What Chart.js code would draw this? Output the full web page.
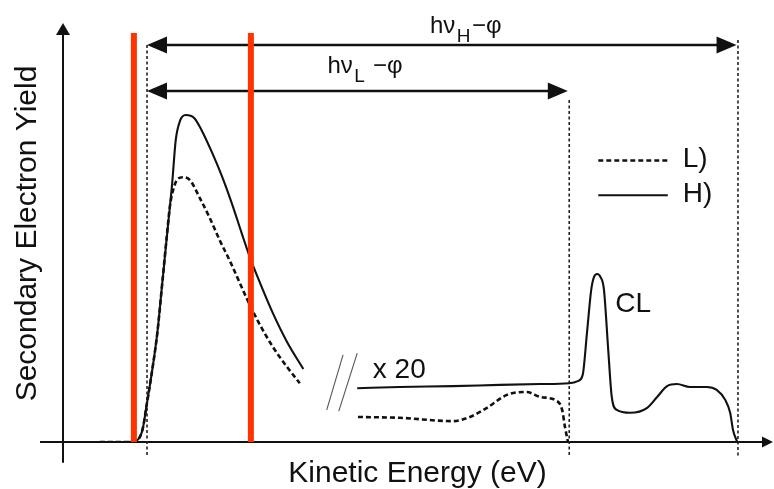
<!DOCTYPE html>
<html>
<head>
<meta charset="utf-8">
<style>
  html, body { margin: 0; padding: 0; background: #ffffff; }
  canvas { display: block; }
</style>
<script src="https://cdn.jsdelivr.net/npm/chart.js@4.4.1/dist/chart.umd.min.js"></script>
</head>
<body>
<canvas id="chart" width="774" height="489"></canvas>
<script>
// ---------------- data (arbitrary units: energy 0-100, yield 0-100) ----------------
// low-energy secondary-electron peak, H) excitation (solid)
const hLowEnergy = [5.2, 8.7, 10.2, 10.9, 11.3, 11.8, 12.3, 13.3, 14.0, 14.7, 15.4, 15.9, 16.5, 17.3, 18.5, 19.6, 21.0, 22.4, 23.8, 25.2, 26.4, 27.8, 29.6, 31.6, 33.9];
const hLowYield  = [0, 0, 0.2, 1.4, 3.6, 8.9, 14.1, 26.1, 38.1, 50.1, 62.1, 72.4, 77.0, 78.4, 77.7, 74.6, 69.5, 63.8, 57.3, 50.1, 44.1, 38.1, 30.9, 24.0, 17.5];
// low-energy secondary-electron peak, L) excitation (dashed)
const lLowEnergy = [5.2, 8.7, 10.2, 10.9, 11.3, 11.8, 12.3, 13.3, 14.0, 14.7, 15.1, 15.7, 16.2, 16.9, 17.9, 19.3, 20.7, 22.1, 23.6, 25.0, 26.0, 27.4, 29.6, 31.6, 33.4];
const lLowYield  = [0, 0, 0.2, 1.4, 3.6, 8.9, 14.1, 26.1, 38.1, 50.4, 56.8, 61.4, 63.1, 63.5, 62.8, 58.5, 53.7, 48.4, 43.2, 37.9, 34.1, 29.3, 22.8, 18.0, 14.1];
// x 20 magnified region, H) excitation (solid, with core-level CL peak)
const hHighEnergy = [41.5, 47.5, 55.0, 61.6, 67.3, 71.4, 72.6, 73.3, 73.9, 74.5, 74.9, 75.35, 75.8, 76.3, 76.9, 77.4, 78.1, 80.0, 82.4, 83.8, 85.2, 86.6, 88.4, 90.8, 92.2, 93.4, 94.1, 94.5, 95.1];
const hHighYield  = [12.9, 13.2, 13.4, 13.7, 13.9, 14.1, 14.6, 16.1, 26.1, 36.5, 39.6, 40.3, 39.6, 36.5, 22.1, 10.8, 7.7, 7.0, 8.2, 10.8, 13.4, 13.9, 13.2, 13.2, 12.5, 10.1, 7.0, 2.9, 0];
// x 20 magnified region, L) excitation (dashed)
const lHighEnergy = [41.6, 47.5, 55.0, 57.4, 59.8, 62.6, 65.4, 67.3, 69.7, 70.4, 70.8, 71.2];
const lHighYield  = [6.0, 5.8, 5.0, 6.0, 8.2, 11.3, 12.0, 10.8, 9.8, 7.7, 3.6, 0.2];

// red marker lines (energy) and their top (yield)
const redLineEnergy = [10.0, 26.5];
const redLineTop = [98.1, 98.1];
// dashed cut-off lines (energy) and their tops (yield)
const cutoffEnergy = [11.85, 71.4, 95.2];
const cutoffTop = [95.2, 82.0, 96.4];
const cutoffBottom = -3.6;
// double arrows: from / to (energy) at yield level
const arrowFrom = [11.85, 11.85];
const arrowTo = [95.0, 71.2];
const arrowLevel = [95.2, 84.2];
const arrowLabelBase = ['hν', 'hν'];
const arrowLabelSub = ['H', 'L'];
const arrowLabelTail = ['−φ', ' −φ'];
const arrowLabelEnergy = [56.8, 42.6];
const arrowLabelYield = [98.1, 88.5];

const seriesNames = ['L)', 'H)'];
const axisTitles = ['Kinetic Energy (eV)', 'Secondary Electron Yield'];

// ---------------- styling ----------------
const FONT = '"Liberation Sans", Arial, Helvetica, sans-serif';
const INK = '#111111';
const RED = '#ff3300';
const DASH = [5, 3];

Chart.defaults.font.family = FONT;
Chart.defaults.color = INK;

function pts(xs, ys) { return xs.map((x, i) => ({ x: x, y: ys[i] })); }

function arrowHead(ctx, tx, ty, dx, dy, len, hw) {
  const bx = tx - dx * len, by = ty - dy * len;
  ctx.beginPath();
  ctx.moveTo(tx, ty);
  ctx.lineTo(bx - dy * hw, by + dx * hw);
  ctx.lineTo(bx + dy * hw, by - dx * hw);
  ctx.closePath();
  ctx.fill();
}

const annot = {
  axisXFrom: -3.24, axisXTo: 100.14,
  axisYFrom: -5.0, axisYTo: 100.5,
  breakMarks: [[[39.5, 20.9], [37.2, 7.7]], [[41.5, 21.3], [38.9, 7.4]]],
  x20: { text: 'x 20', x: 43.7, y: 15.3 },
  cl: { text: 'CL', x: 77.9, y: 31.2 },
  legend: { x0: 75.5, x1: 85.3, textX: 87.4, rows: [67.5, 59.2] }
};

const schematic = {
  id: 'schematic',
  beforeDatasetsDraw(chart) {
    const ctx = chart.ctx;
    const xs = chart.scales.x, ys = chart.scales.y;
    const X = v => xs.getPixelForValue(v);
    const Y = v => ys.getPixelForValue(v);
    ctx.save();
    ctx.strokeStyle = INK;
    ctx.fillStyle = INK;
    ctx.lineCap = 'butt';

    // axes with arrow heads
    ctx.lineWidth = 2;
    ctx.beginPath();
    ctx.moveTo(X(0), Y(annot.axisYFrom));
    ctx.lineTo(X(0), Y(annot.axisYTo) + 8);
    ctx.moveTo(X(annot.axisXFrom), Y(0));
    ctx.lineTo(X(annot.axisXTo) - 8, Y(0));
    ctx.stroke();
    arrowHead(ctx, X(0), Y(annot.axisYTo), 0, -1, 12, 7);
    arrowHead(ctx, X(annot.axisXTo), Y(0), 1, 0, 11, 5.5);

    // dashed cut-off lines
    ctx.lineWidth = 1.6;
    ctx.strokeStyle = '#222';
    ctx.setLineDash([3, 2.5]);
    cutoffEnergy.forEach((e, i) => {
      ctx.beginPath();
      ctx.moveTo(X(e), Y(cutoffTop[i]));
      ctx.lineTo(X(e), Y(cutoffBottom));
      ctx.stroke();
    });
    ctx.setLineDash([]);

    // double arrows
    ctx.strokeStyle = INK;
    ctx.lineWidth = 2.5;
    arrowFrom.forEach((e0, i) => {
      const x0 = X(e0), x1 = X(arrowTo[i]), y = Y(arrowLevel[i]);
      ctx.beginPath();
      ctx.moveTo(x0 + 10, y);
      ctx.lineTo(x1 - 10, y);
      ctx.stroke();
      arrowHead(ctx, x0, y, -1, 0, 20, 8.5);
      arrowHead(ctx, x1, y, 1, 0, 20, 8.5);
    });

    // axis break marks
    ctx.strokeStyle = '#555';
    ctx.lineWidth = 1.1;
    annot.breakMarks.forEach(m => {
      ctx.beginPath();
      ctx.moveTo(X(m[0][0]), Y(m[0][1]));
      ctx.lineTo(X(m[1][0]), Y(m[1][1]));
      ctx.stroke();
    });
    ctx.restore();
  },
  afterDatasetsDraw(chart) {
    const ctx = chart.ctx;
    const xs = chart.scales.x, ys = chart.scales.y;
    const X = v => xs.getPixelForValue(v);
    const Y = v => ys.getPixelForValue(v);
    ctx.save();
    ctx.fillStyle = INK;
    ctx.textBaseline = 'alphabetic';
    ctx.textAlign = 'left';

    // arrow labels with subscripts
    const mainF = '24px ' + FONT, subF = '19px ' + FONT;
    arrowLabelBase.forEach((b, i) => {
      ctx.font = mainF; const w1 = ctx.measureText(b).width;
      ctx.font = subF; const w2 = ctx.measureText(arrowLabelSub[i]).width;
      ctx.font = mainF; const w3 = ctx.measureText(arrowLabelTail[i]).width;
      const gap = 1.5;
      let x = X(arrowLabelEnergy[i]) - (w1 + w2 + w3 + 2 * gap) / 2;
      const y = Y(arrowLabelYield[i]);
      ctx.font = mainF; ctx.fillText(b, x, y); x += w1 + gap;
      ctx.font = subF; ctx.fillText(arrowLabelSub[i], x, y + 9); x += w2 + gap;
      ctx.font = mainF; ctx.fillText(arrowLabelTail[i], x, y);
    });

    // free labels
    ctx.font = '28px ' + FONT;
    ctx.fillText(annot.x20.text, X(annot.x20.x), Y(annot.x20.y));
    ctx.fillText(annot.cl.text, X(annot.cl.x), Y(annot.cl.y));

    // legend (L dashed, H solid)
    const lg = annot.legend;
    lg.rows.forEach((r, i) => {
      ctx.strokeStyle = INK;
      ctx.lineWidth = i === 0 ? 2.5 : 2;
      ctx.setLineDash(i === 0 ? DASH : []);
      ctx.beginPath();
      ctx.moveTo(X(lg.x0), Y(r));
      ctx.lineTo(X(lg.x1), Y(r));
      ctx.stroke();
      ctx.setLineDash([]);
      ctx.textBaseline = 'middle';
      ctx.font = '28px ' + FONT;
      ctx.fillText(seriesNames[i], X(lg.textX), Y(r) - 1);
    });
    ctx.restore();
  }
};

function curve(xs, ys, dashed) {
  return {
    data: pts(xs, ys),
    borderColor: INK,
    borderWidth: dashed ? 2.6 : 2.1,
    borderDash: dashed ? DASH : [],
    cubicInterpolationMode: 'monotone',
    borderJoinStyle: 'round',
    pointRadius: 0,
    fill: false
  };
}
function redLine(i) {
  return {
    data: [{ x: redLineEnergy[i], y: 0 }, { x: redLineEnergy[i], y: redLineTop[i] }],
    borderColor: RED,
    borderWidth: 6,
    borderCapStyle: 'butt',
    pointRadius: 0,
    fill: false
  };
}

new Chart(document.getElementById('chart'), {
  type: 'line',
  data: {
    datasets: [
      redLine(0), redLine(1),
      curve(hLowEnergy, hLowYield, false),
      curve(lLowEnergy, lLowYield, true),
      curve(hHighEnergy, hHighYield, false),
      curve(lHighEnergy, lHighYield, true)
    ]
  },
  options: {
    responsive: false,
    animation: false,
    devicePixelRatio: 1,
    layout: { padding: { left: 0, right: 2, top: 25, bottom: 0 } },
    plugins: { legend: { display: false }, tooltip: { enabled: false } },
    scales: {
      x: {
        type: 'linear', min: 0, max: 100,
        grid: { display: false, drawTicks: false },
        border: { display: false },
        ticks: { display: false },
        title: { display: true, text: axisTitles[0], color: INK,
                 font: { size: 30, lineHeight: 1 }, padding: { top: 17, bottom: 0 } }
      },
      y: {
        type: 'linear', min: 0, max: 100,
        grid: { display: false, drawTicks: false },
        border: { display: false },
        ticks: { display: false },
        title: { display: true, text: axisTitles[1], color: INK,
                 font: { size: 30, lineHeight: 1 }, padding: { top: 13, bottom: 20 } }
      }
    }
  },
  plugins: [schematic]
});
</script>
</body>
</html>
